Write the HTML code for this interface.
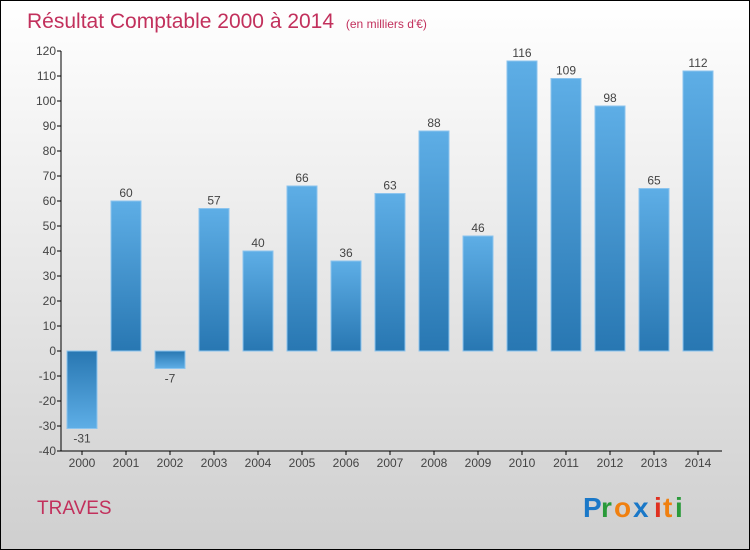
<!DOCTYPE html>
<html><head><meta charset="utf-8"><style>
body{margin:0}
#c{width:748px;height:548px;border:1px solid #000;position:relative;background:linear-gradient(#ffffff,#cfcfcf);font-family:"Liberation Sans",sans-serif;overflow:hidden}
</style></head><body>
<div id="c">
<svg id="s" width="748" height="548" style="position:absolute;left:0;top:0">
<defs>
<linearGradient id="gp" x1="0" y1="0" x2="0" y2="1"><stop offset="0" stop-color="#5eaee6"/><stop offset="1" stop-color="#2877b2"/></linearGradient>
<linearGradient id="gn" x1="0" y1="0" x2="0" y2="1"><stop offset="0" stop-color="#2877b2"/><stop offset="1" stop-color="#5eaee6"/></linearGradient>
</defs>
<text x="26" y="27" font-size="21" fill="#c2305c">Résultat Comptable 2000 à 2014 <tspan font-size="12" dx="6">(en milliers d'€)</tspan></text>
<text x="36" y="513" font-size="19" fill="#c2305c">TRAVES</text>
<g font-size="28" font-weight="bold">
<text x="582" y="516" fill="#1a78c8">P</text><text x="600" y="516" fill="#2a9a3a">r</text><text x="613" y="516" fill="#f08010">o</text><text x="632" y="516" fill="#1a78c8">x</text><text x="653" y="516" fill="#e03020">i</text><text x="662" y="516" fill="#f08010">t</text><text x="674" y="516" fill="#2a9a3a">i</text>
</g>
<g id="g"></g>
</svg>
</div>
<script>
const years=["2000","2001","2002","2003","2004","2005","2006","2007","2008","2009","2010","2011","2012","2013","2014"];
const values=[-31,60,-7,57,40,66,36,63,88,46,116,109,98,65,112];
const yTicks=[-40,-30,-20,-10,0,10,20,30,40,50,60,70,80,90,100,110,120];
const NS="http://www.w3.org/2000/svg";
const g=document.getElementById('g');
const y=v=>350-(v)*2.5;
const x=i=>81+44*i;
function mk(t,a){const e=document.createElementNS(NS,t);for(const k in a)e.setAttribute(k,a[k]);g.appendChild(e);return e;}
let ax=mk('line',{x1:60,y1:y(120),x2:60,y2:y(-40),stroke:'#000'});


let bx=mk('line',{x1:60,y1:y(-40),x2:721,y2:y(-40),stroke:'#000'});


yTicks.forEach(v=>{
 let l=mk('line',{x1:56,x2:60,y1:y(v),y2:y(v),stroke:'#000'});
 
 
 let t=mk('text',{x:55,y:y(v)+4,'text-anchor':'end','font-size':12,fill:'#444'});
 t.textContent=v;
 
 
});
years.forEach((yr,i)=>{
 const v=values[i];
 let l=mk('line',{x1:x(i),x2:x(i),y1:y(-40),y2:y(-40)+4,stroke:'#000'});
 
 
 let t=mk('text',{x:x(i),y:y(-40)+16,'text-anchor':'middle','font-size':12,fill:'#444'});
 t.textContent=yr;
 
 
 const top=Math.min(y(v),y(0)),h=Math.abs(y(v)-y(0));
 let r=mk('rect',{x:x(i)-15,y:top,width:30,height:h,fill:v>=0?'url(#gp)':'url(#gn)',stroke:'#8cc4ee','stroke-width':1});
 
 
 let vl=mk('text',{x:x(i),y:v>=0?y(v)-4:y(v)+14,'text-anchor':'middle','font-size':12,fill:'#444'});
 vl.textContent=v;
 
 
});
</script>
</body></html>
